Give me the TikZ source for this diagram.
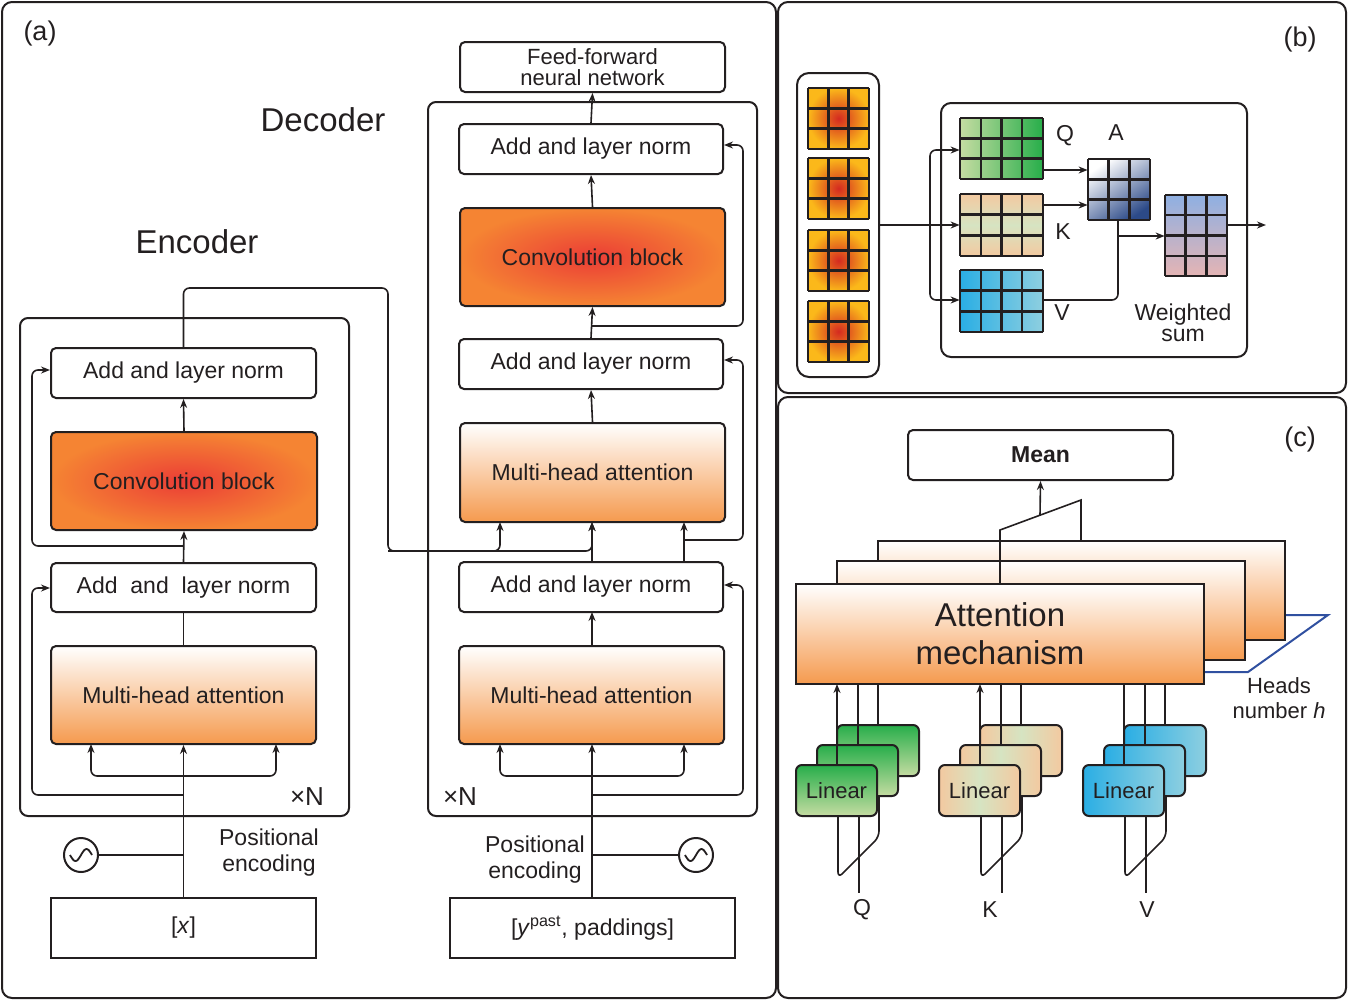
\documentclass[tikz,border=0pt]{standalone}
\usepackage{fontspec}
\setmainfont{Liberation Sans}
\usetikzlibrary{arrows.meta}
\definecolor{convin}{HTML}{EB3D36}
\definecolor{convout}{HTML}{F58433}
\definecolor{mhaor}{HTML}{F59A4E}
\definecolor{smin}{HTML}{D42A20}
\definecolor{smout}{HTML}{FBB81A}
\definecolor{qlight}{HTML}{C5DCA2}
\definecolor{qdark}{HTML}{27AE4A}
\definecolor{kpeach}{HTML}{F3C9A0}
\definecolor{kgreen}{HTML}{D6E4C2}
\definecolor{vdark}{HTML}{2AAEE4}
\definecolor{vlight}{HTML}{8ECFE0}
\definecolor{anavy}{HTML}{2C4A88}
\definecolor{otop}{HTML}{8FB0E2}
\definecolor{obot}{HTML}{E4B4B4}
\definecolor{hblue}{HTML}{3050A0}
\definecolor{ink}{HTML}{231F20}
\newcommand\fsz{\fontsize{11.5}{13}\selectfont}
\newcommand\bx[7]{\pgfmathsetmacro\bw{((#4)-(#2))*0.5}\pgfmathsetmacro\bh{((#5)-(#3))*0.5}%
\node[#6,minimum width=\bw pt,minimum height=\bh pt,inner sep=0pt] (#1) at ({((#2)+(#4))/2},{((#3)+(#5))/2}) {#7};}
\newcommand\gridc[6]{\pgfmathsetmacro\gdx{((#3)-(#1))/#5}\pgfmathsetmacro\gdy{((#4)-(#2))/#6}%
\foreach \i in {0,...,#5}{\draw[gridl] ({#1+\i*\gdx},#2) -- ({#1+\i*\gdx},#4);}%
\foreach \j in {0,...,#6}{\draw[gridl] (#1,{#2+\j*\gdy}) -- (#3,{#2+\j*\gdy});}}
\newcommand\linstack[4]{%
\draw[con] ({838+#1},816) -- ({838+#1},878) -- ({879+#1},837) -- ({879+#1},776);
\draw[con] ({859+#1},816) -- ({859+#1},893);
\bx{#3c}{837+#1}{725}{919+#1}{776}{lin,#2}{}
\draw[con] ({878+#1},725) -- ({878+#1},684);
\bx{#3b}{817+#1}{745}{898+#1}{796}{lin,#2}{}
\draw[con] ({858+#1},745) -- ({858+#1},684);
\bx{#3a}{796+#1}{765}{877+#1}{816}{lin,#2}{Linear}
\draw[#4] ({837+#1},765) -- ({837+#1},684);}
\newcommand\pesym[2]{\draw[line width=0.9pt] plot[domain=-1:1,samples=25] ({#1+\x*11},{#2-6*sin(\x*180)});}
\begin{document}
\begin{tikzpicture}[x=0.5pt,y=-0.5pt,color=ink,
 box/.style={draw=ink,line width=1pt,rounded corners=2.5pt,font=\fsz,align=center,fill=white},
 conv/.style={box,inner color=convin,outer color=convout},
 mha/.style={box,top color=white,bottom color=mhaor},
 con/.style={line width=0.8pt,rounded corners=3pt},
 arr/.style={con,-{Stealth[length=4.5pt,width=3.5pt]}},
 panel/.style={draw=ink,line width=1pt,rounded corners=5pt},
 gridl/.style={line width=1.2pt,draw=ink},
 lin/.style={box,rounded corners=3pt,font=\fontsize{11}{12}\selectfont},
 lbl/.style={font=\fsz,align=center,inner sep=0pt},
 big/.style={font=\fontsize{16.5}{18}\selectfont,inner sep=0pt}]
\useasboundingbox (0,0) rectangle (1348,1001);
% panels
\draw[panel] (2,2) rectangle (776,998);
\draw[panel] (778,2) rectangle (1346,393);
\draw[panel] (778,397) rectangle (1346,998);
\node[font=\fontsize{13.5}{15}\selectfont] (la) at (40,34) {(a)};
\node[font=\fontsize{13.5}{15}\selectfont] (lb) at (1300,40) {(b)};
\node[font=\fontsize{13.5}{15}\selectfont] (lc) at (1300,440) {(c)};
% ===== Encoder =====
\node[big] (enc) at (197,242) {Encoder};
\draw[panel,rounded corners=4pt] (20,318) rectangle (349,816);
\node[lbl,font=\fontsize{13}{14}\selectfont] (eN) at (307,797) {×N};
\bx{eAN1}{51}{348}{316}{398}{box}{Add and layer norm}
\bx{eConv}{51}{432}{317}{530}{conv}{Convolution block}
\bx{eAN2}{51}{563}{316}{612}{box}{Add\ \ and\ \ layer norm}
\bx{eMHA}{51}{646}{316}{744}{mha}{Multi-head attention}
\bx{xin}{51}{898}{316}{958}{box,rounded corners=0pt}{[\textit{x}]}
\draw[arr] (xin.north) -- (eMHA.south);
\draw[arr] (183,776) -| (91,744);
\draw[arr] (183,776) -| (276,744);
\draw[arr] (183,795) -| (32,588) -- (eAN2.west |- 32,588);
\draw[con] (eMHA.north) -- (eAN2.south);
\draw[arr] (eAN2.north) -- (eConv.south);
\draw[arr] (183,546) -| (32,370) -- (eAN1.west |- 32,370);
\draw[arr] (eConv.north) -- (eAN1.south);
\pesym{81}{855}
\draw[line width=1pt] (81,855) circle[radius=17];
\coordinate (epe) at (98,855);
\draw[con] (epe) -- (183,855);
\node[lbl] (epel) at (269,853) {Positional\\encoding};
% encoder -> decoder
\draw[arr] (eAN1.north) |- (388,288) |- (500,551) -- (500,522);
\draw[arr] (388,551) -| (592,522);
% ===== Decoder =====
\node[big] (dec) at (323,120) {Decoder};
\draw[panel,rounded corners=4pt] (428,102) rectangle (757,816);
\node[lbl,font=\fontsize{13}{14}\selectfont] (dN) at (460,797) {×N};
\bx{ffn}{460}{42}{725}{92}{box,font=\fontsize{11}{11.5}\selectfont}{Feed-forward\\[-1pt]neural network}
\bx{dAN1}{459}{124}{723}{174}{box}{Add and layer norm}
\bx{dConv}{460}{208}{725}{306}{conv}{Convolution block}
\bx{dAN2}{459}{339}{723}{389}{box}{Add and layer norm}
\bx{dMHA1}{460}{423}{725}{522}{mha}{Multi-head attention}
\bx{dAN3}{459}{562}{723}{612}{box}{Add and layer norm}
\bx{dMHA2}{459}{646}{724}{744}{mha}{Multi-head attention}
\bx{yin}{450}{898}{735}{958}{box,rounded corners=0pt}{[\textit{y}\textsuperscript{past}, paddings]}
\draw[arr] (592,898) -- (592,744);
\draw[arr] (592,776) -| (500,744);
\draw[arr] (592,776) -| (684,744);
\draw[arr] (592,795) -| (743,585) -- (dAN3.east |- 743,585);
\draw[arr] (592,646) -- (592,612);
\draw[arr] (592,562) -- (592,522);
\draw[arr] (684,562) -- (684,522);
\draw[arr] (684,540) -| (743,360) -- (dAN2.east |- 743,360);
\draw[arr] (dMHA1.north) -- (dAN2.south);
\draw[arr] (dAN2.north) -- (dConv.south);
\draw[arr] (592,326) -| (743,145) -- (dAN1.east |- 743,145);
\draw[arr] (dConv.north) -- (dAN1.south);
\draw[arr] (dAN1.north) -- (ffn.south);
\pesym{696}{855}
\draw[line width=1pt] (696,855) circle[radius=17];
\coordinate (dpe) at (679,855);
\draw[con] (592,855) -- (dpe);
\node[lbl] (dpel) at (535,860) {Positional\\encoding};
% ===== Panel (b) =====
\bx{bin}{797}{73}{879}{377}{box,rounded corners=6pt}{}
\foreach \yy [count=\k] in {88,158,230,301}{
  \bx{sg\k}{808}{\yy}{869}{\yy+61}{inner color=smin,outer color=smout}{}
  \gridc{808}{\yy}{869}{\yy+61}{3}{3}}
\bx{bbox}{941}{103}{1247}{357}{box,fill=none,rounded corners=5pt}{}
\bx{Qg}{960}{118}{1043}{179}{left color=qlight,right color=qdark}{}
\gridc{960}{118}{1043}{179}{4}{3}
\bx{Kg}{960}{194}{1043}{256}{top color=kpeach,bottom color=kpeach,middle color=kgreen}{}
\gridc{960}{194}{1043}{256}{4}{3}
\bx{Vg}{960}{270}{1043}{332}{left color=vdark,right color=vlight}{}
\gridc{960}{270}{1043}{332}{4}{3}
\bx{Ag}{1088}{159}{1150}{220}{top color=white,bottom color=anavy,shading angle=35}{}
\gridc{1088}{159}{1150}{220}{3}{3}
\bx{Og}{1165}{195}{1227}{276}{top color=otop,bottom color=obot}{}
\gridc{1165}{195}{1227}{276}{3}{4}
\node[lbl] (Ql) at (1065,136) {Q};
\node[lbl] (Kl) at (1063,232) {K};
\node[lbl] (Vl) at (1062,313) {V};
\node[lbl] (Al) at (1116,133) {A};
\node[lbl,font=\fontsize{11.5}{10.5}\selectfont] (ws) at (1183,323) {Weighted\\sum};
\draw[arr] (bin.east |- 0,225) -- (Kg.west |- 0,225);
\draw[arr] (930,225) |- (Qg.west |- 0,150);
\draw[arr] (930,225) |- (Vg.west |- 0,300);
\draw[arr] (Qg.east |- 0,170) -- (Ag.west |- 0,170);
\draw[arr] (Kg.east |- 0,205) -- (Ag.west |- 0,205);
\draw[con] (1118,220) |- (Vg.east |- 0,300);
\draw[arr] (1118,236) -- (Og.west |- 0,236);
\coordinate (bout) at (1266,225);
\draw[arr] (Og.east |- 0,225) -- (bout);
% ===== Panel (c) =====
\draw[line width=1pt,hblue] (1204,672) -- (1248,672) -- (1328,615) -- (1285,615);
\bx{at3}{878}{541}{1285}{640}{mha,rounded corners=0pt}{}
\bx{at2}{837}{561}{1245}{660}{mha,rounded corners=0pt}{}
\bx{at1}{796}{584}{1204}{684}{mha,rounded corners=0pt,font=\fontsize{16.5}{19}\selectfont}{Attention\\mechanism}
\bx{mean}{908}{430}{1173}{480}{box,font=\fsz\bfseries}{Mean}
\draw[con,rounded corners=0pt] (1000,584) -- (1000,530) -- (1081,500) -- (1081,541);
\draw[arr] (1040,515) -- (mean.south);
\node[lbl,font=\fontsize{11}{12.5}\selectfont] (hd) at (1279,698) {Heads\\number \textit{h}};
\linstack{0}{top color=qdark,bottom color=qlight}{lq}{arr}
\linstack{143}{left color=kpeach,right color=kpeach,middle color=kgreen}{lk}{arr}
\linstack{287}{left color=vdark,right color=vlight}{lv}{con}
\node[lbl] (cQ) at (862,910) {Q};
\node[lbl] (cK) at (990,910) {K};
\node[lbl] (cV) at (1147,910) {V};
\end{tikzpicture}
\end{document}
